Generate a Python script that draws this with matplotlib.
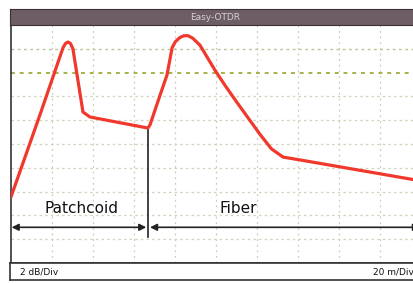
import numpy as np
import matplotlib
matplotlib.use("Agg")
import matplotlib.pyplot as plt

# OTDR trace, distance in metres (20 m/div) and level in dB (2 dB/div)
dist_m = [0, 14.1, 25.4, 26.6, 27.8, 29.0, 30.2, 35.1, 38.5, 66.8, 67.8, 72.7, 76.1,
          78.6, 80.2, 82.4, 84.4, 86.3, 88.6, 92.2, 99.5, 104.5, 110.2, 121.5,
          127.0, 132.7, 141.0, 200.0]
level_db = [5.55, 12.44, 18.1, 18.45, 18.57, 18.45, 18.0, 12.69, 12.27, 11.34, 11.6, 14.1, 15.8,
            18.1, 18.6, 18.95, 19.1, 19.1, 18.9, 18.3, 16.2, 14.9, 13.5, 10.8,
            9.6, 8.9, 8.66, 6.9]

connector_m = 66.8
sections = ["Patchcoid", "Fiber"]
section_x = [34.6, 110.7]
title = "Easy-OTDR"
y_scale_label = "2 dB/Div"
x_scale_label = "20 m/Div"

W, H = 414, 283
fig = plt.figure(figsize=(W / 100, H / 100), dpi=100)
fig.patch.set_facecolor("white")

# main display, 10 x 10 divisions (right part runs off the picture)
ax = fig.add_axes([11 / W, (H - 263) / H, 410 / W, 238 / H])
ax.set_xlim(0, 200)
ax.set_ylim(0, 20)
ax.set_xticks([])
ax.set_yticks([])
for s in ax.spines.values():
    s.set_color("#333333")
    s.set_linewidth(1.2)

for gx in np.arange(20, 200, 20):
    ax.axvline(gx, color="#c9cfb8", lw=0.9, ls=(0, (1.5, 3)), zorder=1)
for gy in np.arange(2, 20, 2):
    if gy == 16:
        c, lw = "#a8b04a", 1.4
    elif gy == 18:
        c, lw = "#bcc49a", 1.0
    else:
        c, lw = "#cfd4c0", 0.9
    ax.axhline(gy, color=c, lw=lw, ls=(0, (2, 2.5)), zorder=1)

ax.plot(dist_m, level_db, color="#f0392c", lw=2.3, solid_joinstyle="round",
        solid_capstyle="round", zorder=3)

# connector marker and section arrows
ax.plot([connector_m, connector_m], [2.2, 11.34], color="#222222", lw=1.2, zorder=2)
ax.annotate("", xy=(0.3, 3.0), xytext=(connector_m - 0.8, 3.0),
            arrowprops=dict(arrowstyle="<|-|>", color="#222222", lw=1.2,
                            mutation_scale=10, shrinkA=0, shrinkB=0))
ax.annotate("", xy=(connector_m + 1.0, 3.0), xytext=(199.5, 3.0),
            arrowprops=dict(arrowstyle="<|-|>", color="#222222", lw=1.2,
                            mutation_scale=10, shrinkA=0, shrinkB=0))
for name, sx in zip(sections, section_x):
    ax.text(sx, 4.6, name, ha="center", va="center", fontsize=11, color="#111111")

# title bar
tb = fig.add_axes([10 / W, (H - 25) / H, 411 / W, 16 / H])
tb.set_facecolor("#6d5d64")
tb.set_xticks([])
tb.set_yticks([])
for s in tb.spines.values():
    s.set_color("#3a3035")
tb.text(0.5, 0.5, title, ha="center", va="center", fontsize=6.5, color="#d8d0d4",
        transform=tb.transAxes)

# bottom status bar
bb = fig.add_axes([10 / W, (H - 280) / H, 411 / W, 17 / H])
bb.set_facecolor("white")
bb.set_xticks([])
bb.set_yticks([])
for s in bb.spines.values():
    s.set_color("#333333")
    s.set_linewidth(1.2)
bb.text(10 / 411, 0.45, y_scale_label, ha="left", va="center", fontsize=6.5,
        color="#111111", transform=bb.transAxes)
bb.text(404 / 411, 0.45, x_scale_label, ha="right", va="center", fontsize=6.5,
        color="#111111", transform=bb.transAxes)

fig.savefig("out.png", dpi=100)
